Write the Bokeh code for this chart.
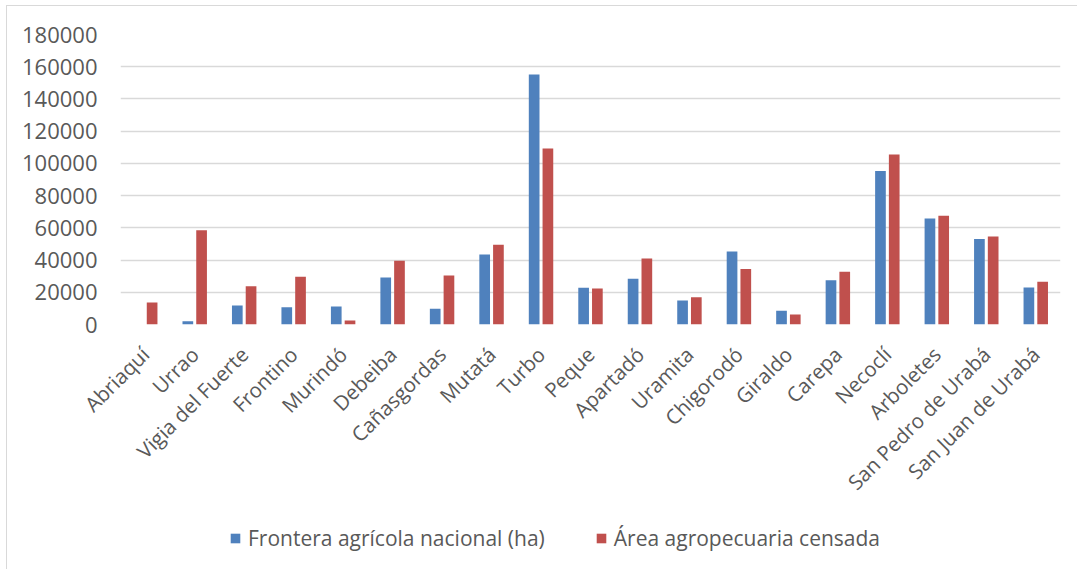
import math
from bokeh.plotting import figure
from bokeh.layouts import column
from bokeh.models import (ColumnDataSource, FactorRange, Range1d, FixedTicker,
                          Legend, LegendItem, NumeralTickFormatter)
from bokeh.transform import dodge
from bokeh.embed import file_html
from bokeh.resources import INLINE

municipios = ["Abriaquí", "Urrao", "Vigia del Fuerte", "Frontino", "Murindó",
              "Debeiba", "Cañasgordas", "Mutatá", "Turbo", "Peque", "Apartadó",
              "Uramita", "Chigorodó", "Giraldo", "Carepa", "Necoclí",
              "Arboletes", "San Pedro de Urabá", "San Juan de Urabá"]
frontera = [0, 2000, 11800, 10700, 11200, 29200, 9700, 43400, 155200, 22800,
            28400, 14900, 45300, 8500, 27500, 95200, 65800, 53000, 23000]
censada = [13700, 58500, 23800, 29600, 2500, 39500, 30400, 49500, 109200,
           22300, 41000, 16900, 34500, 6200, 32700, 105500, 67500, 54600, 26500]
y_ticks = [0, 20000, 40000, 60000, 80000, 100000, 120000, 140000, 160000, 180000]
series_names = ["Frontera agrícola nacional (ha)", "Área agropecuaria censada"]

FONT = "Open Sans"
TXT = "#595959"
BLUE = "#4F81BD"
RED = "#C0504D"

source = ColumnDataSource(dict(cat=municipios, f=frontera, c=censada))

fig = figure(x_range=FactorRange(*municipios), y_range=Range1d(0, 180000),
             width=1070, height=502, output_backend="svg", toolbar_location=None,
             min_border_left=113, min_border_right=17, min_border_top=28,
             min_border_bottom=184)
fig.outline_line_color = None
fig.background_fill_color = "white"
fig.border_fill_color = "white"

fig.vbar(x=dodge("cat", -0.139, range=fig.x_range), top="f", width=0.216,
         source=source, fill_color=BLUE, line_color=None)
fig.vbar(x=dodge("cat", 0.139, range=fig.x_range), top="c", width=0.216,
         source=source, fill_color=RED, line_color=None)

fig.yaxis.ticker = FixedTicker(ticks=y_ticks)
fig.yaxis.formatter = NumeralTickFormatter(format="0")
fig.yaxis.axis_line_color = None
fig.yaxis.major_tick_line_color = None
fig.yaxis.minor_tick_line_color = None
fig.yaxis.major_tick_out = 0
fig.yaxis.major_label_standoff = 23
fig.yaxis.major_label_text_font = FONT
fig.yaxis.major_label_text_font_size = "22px"
fig.yaxis.major_label_text_color = TXT

fig.xaxis.axis_line_color = None
fig.xaxis.major_tick_line_color = None
fig.xaxis.minor_tick_line_color = None
fig.xaxis.major_tick_out = 0
fig.xaxis.major_label_orientation = math.pi / 4
fig.xaxis.major_label_standoff = 26
fig.xaxis.major_label_text_font = FONT
fig.xaxis.major_label_text_font_size = "20.5px"
fig.xaxis.major_label_text_color = TXT

fig.xgrid.grid_line_color = None
fig.ygrid.grid_line_color = "#D9D9D9"
fig.ygrid.grid_line_width = 1.5

# legend strip below the chart
leg = figure(width=1070, height=61, output_backend="svg", toolbar_location=None,
             x_range=Range1d(0, 1), y_range=Range1d(0, 1),
             x_axis_type=None, y_axis_type=None,
             min_border_left=0, min_border_right=0, min_border_top=0,
             min_border_bottom=0)
leg.outline_line_color = None
leg.xgrid.grid_line_color = None
leg.ygrid.grid_line_color = None
d1 = leg.vbar(x=[0.5], top=[0], width=0.1, fill_color=BLUE, line_color=None)
d2 = leg.vbar(x=[0.5], top=[0], width=0.1, fill_color=RED, line_color=None)

legend = Legend(items=[LegendItem(label=series_names[0], renderers=[d1]),
                       LegendItem(label=series_names[1], renderers=[d2])],
                orientation="horizontal", location=(109, 17),
                padding=0, margin=0, spacing=50, label_standoff=7,
                glyph_width=12, glyph_height=12, label_height=21,
                label_text_font=FONT, label_text_font_size="21px",
                label_text_color=TXT, border_line_color=None,
                background_fill_alpha=0)
leg.add_layout(legend, "center")

p = column(fig, leg, spacing=0)
p.styles = {"margin-left": "6px", "margin-top": "5px",
            "border-top": "1px solid #D9D9D9", "border-left": "1px solid #D9D9D9"}

open("out.html", "w").write(file_html(p, INLINE))
